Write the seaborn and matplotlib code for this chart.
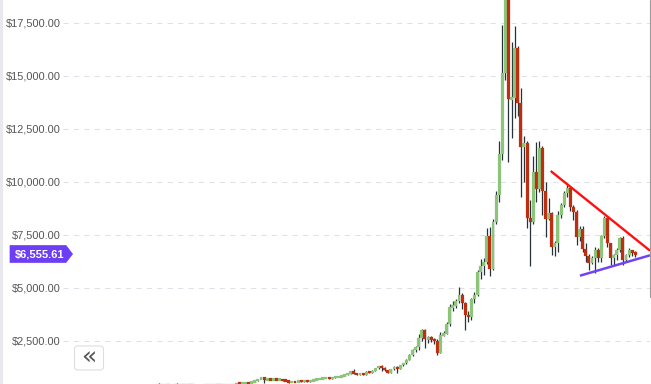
import matplotlib
matplotlib.use("Agg")
import numpy as np
import pandas as pd
import seaborn as sns
import matplotlib.pyplot as plt
from matplotlib.patches import Polygon, FancyBboxPatch, Rectangle
from matplotlib.lines import Line2D
from matplotlib.transforms import IdentityTransform

sns.set_theme(style="white")
plt.rcParams['font.family'] = ['Liberation Sans', 'DejaVu Sans']

# ---------------- data (weekly candles) ----------------
first_index = -25
opens = [370, 380, 375, 390, 365, 370, 385, 395, 400, 390, 395, 380, 370, 365, 360, 370, 380, 390, 395, 400,
         395, 390, 395, 400, 405,
         405, 500, 478, 492, 510, 495, 560, 605, 680, 770, 665, 690, 655, 680, 650, 670, 640, 600, 545, 575,
         545, 610, 575, 640, 580, 615, 650, 685, 705, 735, 760, 720, 770, 785, 805, 835, 890, 960, 1030, 965,
         895, 960, 900, 1040, 985, 1080, 1200, 1300, 1220, 1110, 985, 1150, 1270, 1160, 1350, 1440, 1600, 1830,
         2060, 2220, 2610, 3000, 2570, 2640, 2560, 2500, 1940, 2760, 2830, 3290, 4090, 4140, 4390, 4650, 4290,
         3710, 3610, 4470, 4650, 5750, 6020, 6230, 7440, 5900, 8110, 9370, 11300, 15110, 19100, 13890, 13950,
         16290, 13700, 11620, 11830, 8270, 8110, 10470, 9670, 11580, 9580, 8250, 8510, 6910, 7090, 8410, 8900,
         9450, 9720, 8790, 8580, 7400, 7770, 6810, 6500, 6180, 6420, 6780, 6420, 7440, 8290, 7100, 6390, 6540,
         6780, 7330, 6310, 6540, 6780, 6660]
closes = [380, 375, 390, 365, 370, 385, 395, 400, 390, 395, 380, 370, 365, 360, 370, 380, 390, 395, 400, 395,
          390, 395, 400, 405, 405,
          500, 478, 492, 510, 495, 560, 605, 680, 770, 665, 690, 655, 680, 650, 670, 640, 600, 545, 575, 545,
          610, 575, 640, 580, 615, 650, 685, 705, 735, 760, 720, 770, 785, 805, 835, 890, 960, 1030, 965, 895,
          960, 900, 1040, 985, 1080, 1200, 1300, 1220, 1110, 985, 1150, 1270, 1160, 1350, 1440, 1600, 1830, 2060,
          2220, 2610, 3000, 2570, 2640, 2560, 2500, 1940, 2760, 2830, 3290, 4090, 4140, 4390, 4650, 4290, 3710,
          3610, 4470, 4650, 5750, 6020, 6230, 7440, 5900, 8110, 9370, 11300, 15110, 19100, 13890, 13950, 16290,
          13700, 11620, 11830, 8270, 8110, 10470, 9670, 11580, 9580, 8250, 8510, 6910, 7090, 8410, 8900, 9450,
          9720, 8790, 8580, 7400, 7770, 6810, 6500, 6180, 6420, 6780, 6420, 7440, 8290, 7100, 6390, 6540, 6780,
          7330, 6310, 6540, 6780, 6660, 6556]
highs = [485, 395, 400, 398, 380, 480, 482, 480, 405, 478, 480, 390, 380, 375, 378, 388, 398, 402, 405, 406,
         402, 400, 405, 410, 412,
         512, 506, 500, 518, 520, 580, 615, 690, 790, 785, 705, 700, 695, 690, 685, 680, 650, 610, 590, 585,
         620, 620, 650, 648, 625, 660, 695, 715, 745, 770, 805, 780, 795, 815, 845, 900, 975, 1045, 1160, 975,
         975, 980, 1055, 1060, 1095, 1215, 1320, 1350, 1240, 1130, 1165, 1290, 1300, 1370, 1460, 1620, 1860,
         2090, 2260, 2800, 3050, 3050, 2700, 2700, 2620, 2560, 2900, 2950, 3400, 4230, 4350, 4480, 5050, 4750,
         4330, 3900, 4500, 4800, 5850, 6350, 6400, 7800, 7880, 8250, 9550, 11930, 17390, 19800, 19600, 16600,
         17340, 16400, 14420, 12160, 11900, 9140, 11200, 11890, 11900, 11700, 10000, 9220, 8550, 7200, 8600,
         9000, 9550, 9850, 9800, 8900, 8650, 7900, 7900, 7090, 6600, 6500, 6900, 6850, 7500, 8400, 8300, 7100,
         6600, 6850, 7410, 7450, 6600, 6860, 6800, 6720]
lows = [355, 360, 365, 350, 348, 360, 375, 380, 375, 378, 368, 355, 350, 345, 350, 362, 372, 380, 385, 382,
        378, 380, 388, 390, 392,
        398, 462, 470, 485, 485, 490, 550, 595, 670, 505, 640, 630, 640, 630, 640, 620, 585, 520, 535, 530,
        540, 560, 565, 565, 570, 605, 640, 670, 695, 725, 705, 710, 760, 775, 795, 825, 880, 950, 930, 870,
        880, 885, 890, 970, 975, 1070, 1185, 1050, 1090, 960, 970, 1140, 960, 1150, 1330, 1420, 1580, 1800,
        1950, 2050, 2500, 2170, 2400, 2450, 2350, 1820, 1900, 2700, 2800, 3200, 3900, 4050, 4300, 4000, 3000,
        3400, 3500, 4300, 4600, 5400, 5600, 6100, 5550, 5850, 8000, 9040, 11020, 14800, 10940, 12050, 13000,
        13100, 9290, 10000, 7800, 6040, 8000, 9050, 9500, 8430, 7400, 8190, 6540, 6500, 6700, 8300, 8800,
        9300, 8600, 8200, 7000, 7200, 6700, 6230, 5840, 6100, 5690, 6200, 6200, 7350, 6900, 6070, 6070, 6300,
        6700, 6070, 6200, 6450, 6500, 6450]

y_ticks = [2500, 5000, 7500, 10000, 12500, 15000, 17500]
y_tick_labels = ["$2,500.00", "$5,000.00", "$7,500.00", "$10,000.00",
                 "$12,500.00", "$15,000.00", "$17,500.00"]
last_price = 6555.61
last_price_label = "$6,555.61"

# trend lines (candle index, price)
resistance_idx = [101.65, 133.75]
resistance_val = [10505, 6745]
support_idx = [111.1, 133.75]
support_val = [5566, 6528]

df = pd.DataFrame({"open": opens, "high": highs, "low": lows, "close": closes})
df["idx"] = np.arange(len(df)) + first_index
df["dir"] = np.where(df["close"] >= df["open"], "up", "down")

# ---------------- figure ----------------
W, H = 651, 384
fig = plt.figure(figsize=(W / 100, H / 100), dpi=100)
ax = fig.add_axes([63 / W, 0, (650 - 63) / W, 1])
ymin, ymax = 457.5, 18571
ax.set_ylim(ymin, ymax)
ax.set_xlim(-56.0, 133.75)

px_val = (ymax - ymin) / H  # value per pixel
palette = {"up": "#8cc57a", "down": "#be2f10"}

ax.vlines(df["idx"], df["low"], df["high"], color="#263238", lw=0.9, zorder=2)
body_lo = np.minimum(df["open"], df["close"]).to_numpy(dtype=float)
body_hi = np.maximum(df["open"], df["close"]).to_numpy(dtype=float)
min_h = 2.5 * px_val
mid = (body_lo + body_hi) / 2
hgt = np.maximum(body_hi - body_lo, min_h)
bot = np.where(body_hi - body_lo < min_h, mid - min_h / 2, body_lo)
cols = [palette[d] for d in df["dir"]]
ax.bar(df["idx"], hgt, bottom=bot, width=0.95, color=cols, edgecolor=cols,
       linewidth=0.15, zorder=3)

ax.plot(resistance_idx, resistance_val, color="#ff1010", lw=1.7, zorder=4,
        solid_capstyle="butt")
ax.plot(support_idx, support_val, color="#7043f5", lw=1.8, zorder=4,
        solid_capstyle="butt")

ax.set_yticks(y_ticks)
ax.set_yticklabels(y_tick_labels)
ax.set_xticks([])
ax.tick_params(axis="y", length=0, pad=1.5, labelsize=7.9, labelcolor="#555555")
ax.yaxis.grid(True, linestyle=(0, (5, 5)), color="#e0e0e8", linewidth=0.75)
ax.xaxis.grid(False)
for s in ax.spines.values():
    s.set_visible(False)
ax.set_facecolor("white")
fig.patch.set_facecolor("white")

# left strip
fig.patches.append(Rectangle((0, 0), 3.3 / W, 1, transform=fig.transFigure,
                             facecolor="#e8e8ee", edgecolor="none", zorder=0))
# right border line
fig.lines.append(Line2D([649.5 / W, 649.5 / W], [1, 1 - 297 / H], transform=fig.transFigure,
                        color="#9a9a9a", lw=0.8))

# price tag
def P(x, y):
    return (x, H - y)

tag_color = "#6c3ef4"
tag = Polygon([P(10, 245.5), P(66, 245.5), P(72.5, 254), P(66, 262.5), P(10, 262.5)],
              closed=True, transform=IdentityTransform(), facecolor=tag_color,
              edgecolor=tag_color, lw=0.5, zorder=10)
fig.patches.append(tag)
fig.text(39.3 / W, 1 - 254.3 / H, last_price_label, ha="center", va="center",
         color="white", fontsize=8, fontweight="bold", zorder=11)

# scroll button
btn = FancyBboxPatch(P(74.5, 370), 29, 24,
                     boxstyle="round,pad=0,rounding_size=3", transform=IdentityTransform(),
                     facecolor="white", edgecolor="#dedede", lw=0.8, zorder=10)
fig.patches.append(btn)
fig.text(89 / W, 1 - 358 / H, "«", ha="center", va="center", color="#555555",
         fontsize=18, family="DejaVu Sans", zorder=11)

fig.savefig("out.png", dpi=100)
